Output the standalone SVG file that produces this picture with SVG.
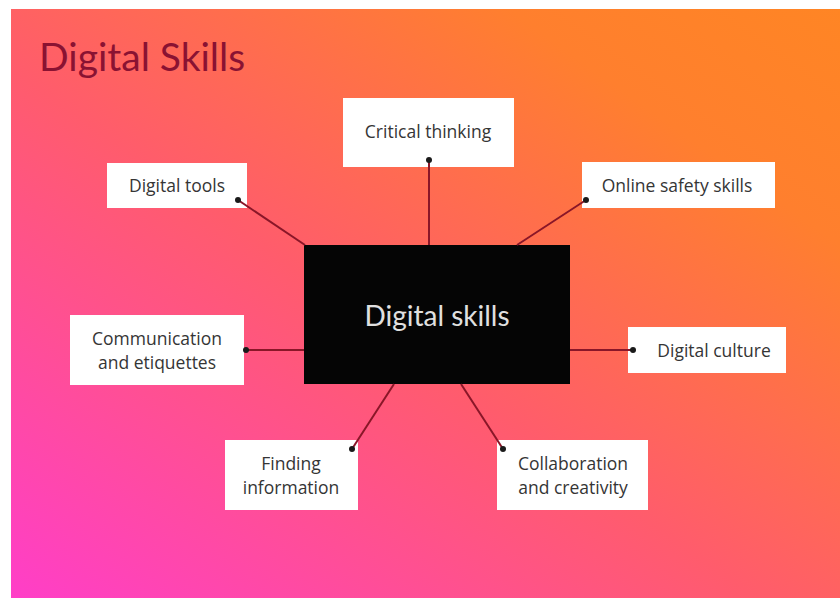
<svg xmlns="http://www.w3.org/2000/svg" width="840" height="598" viewBox="0 0 840 598">
<defs>
<linearGradient id="bg" x1="0" y1="1" x2="1" y2="0">
<stop offset="0" stop-color="#ff3ec8"/>
<stop offset="0.45" stop-color="#ff5c6c"/>
<stop offset="0.8" stop-color="#ff7f2e"/>
<stop offset="1" stop-color="#ff8524"/>
</linearGradient>
<style>
.box{fill:#ffffff}
.lbl{font-family:"Open Sans","Liberation Sans",sans-serif;font-size:17.5px;fill:#353535;text-anchor:middle}
.con{stroke:#8a1628;stroke-width:2;fill:none}
.dot{fill:#1a1a1a}
</style>
</defs>
<rect x="0" y="0" width="840" height="598" fill="#ffffff"/>
<rect x="11" y="9" width="829" height="589" fill="url(#bg)"/>
<text x="39" y="71" font-family="Lato,'Liberation Sans',sans-serif" font-size="39" fill="#8a1232">Digital Skills</text>

<g id="center">
<rect x="304" y="245" width="266" height="139" fill="#050505"/>
<text x="437" y="326" font-family="Lato,'Liberation Sans',sans-serif" font-size="28" fill="#e0e0e0" text-anchor="middle">Digital skills</text>
</g>

<g id="critical-thinking">
<rect class="box" x="343" y="98" width="171" height="69"/>
<text class="lbl" x="428" y="138">Critical thinking</text>
</g>

<g id="digital-tools">
<rect class="box" x="107" y="163" width="140" height="45"/>
<text class="lbl" x="177" y="192">Digital tools</text>
</g>

<g id="online-safety">
<rect class="box" x="582" y="162" width="193" height="46"/>
<text class="lbl" x="677" y="192">Online safety skills</text>
</g>

<g id="communication">
<rect class="box" x="70" y="315" width="174" height="70"/>
<text class="lbl" x="157" y="345">Communication</text>
<text class="lbl" x="157" y="369">and etiquettes</text>
</g>

<g id="digital-culture">
<rect class="box" x="628" y="327" width="158" height="46"/>
<text class="lbl" x="714" y="357">Digital culture</text>
</g>

<g id="finding-information">
<rect class="box" x="225" y="440" width="133" height="70"/>
<text class="lbl" x="291" y="470">Finding</text>
<text class="lbl" x="291" y="494">information</text>
</g>

<g id="collaboration">
<rect class="box" x="497" y="440" width="151" height="70"/>
<text class="lbl" x="573" y="470">Collaboration</text>
<text class="lbl" x="573" y="494">and creativity</text>
</g>

<g id="connectors">
<line class="con" x1="429" y1="160" x2="429" y2="245"/>
<line class="con" x1="238" y1="200" x2="305" y2="245"/>
<line class="con" x1="586" y1="200" x2="517" y2="245"/>
<line class="con" x1="246" y1="350" x2="304" y2="350"/>
<line class="con" x1="633" y1="350" x2="570" y2="350"/>
<line class="con" x1="352" y1="449" x2="394" y2="384"/>
<line class="con" x1="503" y1="449" x2="461" y2="384"/>
<circle class="dot" cx="429" cy="160" r="3"/>
<circle class="dot" cx="238" cy="200" r="3"/>
<circle class="dot" cx="586" cy="200" r="3"/>
<circle class="dot" cx="246" cy="350" r="3"/>
<circle class="dot" cx="633" cy="350" r="3"/>
<circle class="dot" cx="352" cy="449" r="3"/>
<circle class="dot" cx="503" cy="449" r="3"/>
</g>
</svg>
